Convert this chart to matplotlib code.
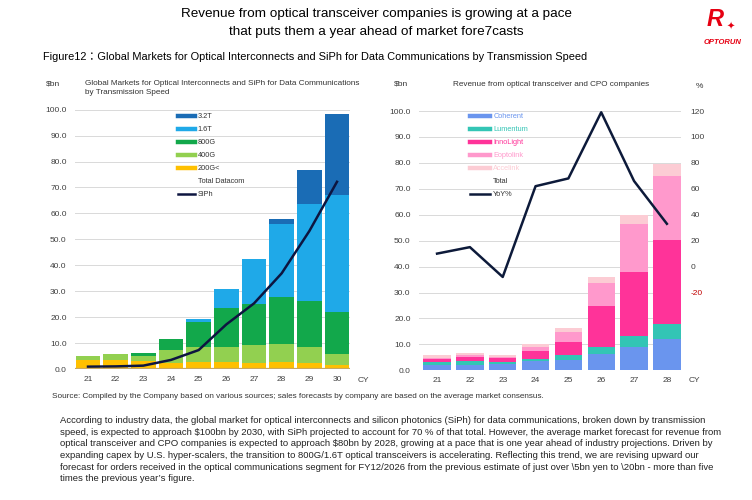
import matplotlib
matplotlib.use('Agg')
import matplotlib.pyplot as plt
from matplotlib.lines import Line2D
import numpy as np

FONT = ['Liberation Sans', 'DejaVu Sans']
plt.rcParams['font.family'] = FONT

# ---- left chart data ($bn) ----
years_l = ['21', '22', '23', '24', '25', '26', '27', '28', '29', '30']
g200 = [3.4, 3.6, 3.0, 2.4, 2.6, 2.6, 2.4, 2.6, 2.3, 1.7]
g400 = [1.7, 2.1, 2.0, 4.9, 6.0, 5.9, 6.7, 7.2, 6.3, 4.1]
g800 = [0.0, 0.0, 1.2, 4.3, 9.7, 14.9, 16.0, 18.1, 17.6, 16.2]
t16 = [0.0, 0.0, 0.0, 0.0, 0.9, 7.3, 17.4, 28.0, 37.6, 45.1]
t32 = [0.0, 0.0, 0.0, 0.0, 0.0, 0.0, 0.0, 1.8, 12.8, 31.4]
siph = [0.9, 1.0, 1.3, 3.5, 7.3, 17.2, 25.3, 36.9, 53.2, 72.2]

# ---- right chart data ($bn, %) ----
years_r = ['21', '22', '23', '24', '25', '26', '27', '28']
coherent = [1.9, 2.2, 2.3, 3.4, 4.1, 6.2, 9.0, 12.0]
lumentum = [1.2, 1.4, 1.0, 0.8, 1.8, 2.9, 4.2, 6.0]
innolight = [1.1, 1.5, 1.5, 3.4, 5.2, 15.7, 24.8, 32.3]
eoptolink = [0.7, 0.7, 0.3, 1.3, 3.6, 9.0, 18.4, 24.6]
accelink = [0.9, 0.8, 0.7, 1.1, 1.8, 2.1, 3.4, 4.5]
yoy = [10, 15, -8, 62, 68, 119, 66, 33]

W, H = 752, 500
fig = plt.figure(figsize=(W / 100, H / 100), dpi=100)


def ftext(x, y, s, **kw):
    # place text using pixel coordinates of the reference image
    return fig.text(x / W, 1 - y / H, s, **kw)


def axes_px(l, t, r, b):
    return fig.add_axes([l / W, 1 - b / H, (r - l) / W, (b - t) / H])


grid_c = '#d9d9d9'
tick_c = '#404040'
TS = 6  # tick label size
LS = 5.3  # legend text size

# ================= left chart =================
ax1 = axes_px(75, 109.7, 350, 369)
x1 = np.arange(len(years_l))
left_series = [('200G<', g200, '#ffc000'), ('400G', g400, '#92d050'),
               ('800G', g800, '#12a84b'), ('1.6T', t16, '#1fa9e8'),
               ('3.2T', t32, '#1a6cb5')]
bottom = np.zeros(len(years_l))
handles = {}
for name, vals, col in left_series:
    ax1.bar(x1, vals, width=0.9, bottom=bottom, color=col, zorder=2)
    bottom += np.array(vals)
    handles[name] = Line2D([], [], color=col, lw=3.2)
ax1.plot(x1, siph, color='#0d1540', lw=1.8, zorder=3)
ax1.set_xlim(-0.47, 9.47)
ax1.set_ylim(0, 100)
ax1.set_yticks(np.arange(0, 101, 10))
ax1.set_yticklabels([f'{v:.1f}' for v in range(0, 101, 10)])
ax1.set_xticks(x1)
ax1.set_xticklabels(years_l)
ax1.grid(axis='y', color=grid_c, lw=0.7, zorder=0)
ax1.set_axisbelow(True)
ax1.axhline(0, color='#c9a860', lw=1.6, zorder=4)
for s in ax1.spines.values():
    s.set_visible(False)
ax1.tick_params(length=0, labelsize=TS, colors=tick_c, pad=6)
ax1.tick_params(axis='x', pad=5)

lh = [handles['3.2T'], handles['1.6T'], handles['800G'], handles['400G'],
      handles['200G<'], Line2D([], [], color='none'),
      Line2D([], [], color='#0d1540', lw=1.8)]
ll = ['3.2T', '1.6T', '800G', '400G', '200G<', 'Total Datacom', 'SiPh']
leg1 = ax1.legend(lh, ll, loc='upper left', bbox_to_anchor=(178 / W, 1 - 113 / H),
                  bbox_transform=fig.transFigure, frameon=False, fontsize=LS,
                  handlelength=2.3, handletextpad=0.4, labelspacing=0.8,
                  borderpad=0, borderaxespad=0)
for t in leg1.get_texts():
    t.set_color('#333333')

ftext(53, 84, '$bn', fontsize=6, ha='center', va='center', color='#333333')
ftext(85, 80, 'Global Markets for Optical Interconnects and SiPh for Data Communications\nby Transmission Speed',
      fontsize=5.9, ha='left', va='top', color='#333333', linespacing=1.3)
ftext(363, 381, 'CY', fontsize=TS, ha='center', va='center', color=tick_c)

# ================= right chart =================
ax2 = axes_px(419, 111, 681, 370.3)
x2 = np.arange(len(years_r))
right_series = [('Coherent', coherent, '#6a95ee'), ('Lumentum', lumentum, '#33c5b5'),
                ('InnoLight', innolight, '#ff3399'), ('Eoptolink', eoptolink, '#ff99cc'),
                ('Accelink', accelink, '#fcccd4')]
bottom = np.zeros(len(years_r))
rh = []
for name, vals, col in right_series:
    ax2.bar(x2, vals, width=0.83, bottom=bottom, color=col, zorder=2)
    bottom += np.array(vals)
    rh.append(Line2D([], [], color=col, lw=3.2))
ax2.set_xlim(-0.55, 7.43)
ax2.set_ylim(0, 100)
ax2.set_yticks(np.arange(0, 101, 10))
ax2.set_yticklabels([f'{v:.1f}' for v in range(0, 101, 10)])
ax2.set_xticks(x2)
ax2.set_xticklabels(years_r)
ax2.grid(axis='y', color=grid_c, lw=0.7, zorder=0)
ax2.set_axisbelow(True)
for s in ax2.spines.values():
    s.set_visible(False)
ax2.tick_params(length=0, labelsize=TS, colors=tick_c, pad=6)
ax2.tick_params(axis='x', pad=5)

ax2r = ax2.twinx()
ax2r.plot(x2, yoy, color='#0d1a3a', lw=1.8, zorder=3)
ax2r.set_ylim(-80, 120)
rt = list(range(-20, 121, 20))
ax2r.set_yticks(rt)
ax2r.set_yticklabels([str(v) for v in rt])
for s in ax2r.spines.values():
    s.set_visible(False)
ax2r.tick_params(length=0, labelsize=TS, colors=tick_c, pad=7)
ax2r.get_yticklabels()[0].set_color('#c00000')

rl = ['Coherent', 'Lumentum', 'InnoLight', 'Eoptolink', 'Accelink', 'Total', 'YoY%']
rh += [Line2D([], [], color='none'), Line2D([], [], color='#0d1a3a', lw=1.8)]
leg2 = ax2r.legend(rh, rl, loc='upper left', bbox_to_anchor=(470 / W, 1 - 113 / H),
                   bbox_transform=fig.transFigure, frameon=False, fontsize=LS,
                   handlelength=2.75, handletextpad=0.4, labelspacing=0.8,
                   borderpad=0, borderaxespad=0)
tcols = ['#6a95ee', '#33c5b5', '#ff3399', '#ff99cc', '#fcccd4', '#333333', '#333333']
for t, c in zip(leg2.get_texts(), tcols):
    t.set_color(c)

ftext(401, 84, '$bn', fontsize=6, ha='center', va='center', color='#333333')
ftext(551, 85, 'Revenue from optical transceiver and CPO companies',
      fontsize=5.9, ha='center', va='center', color='#333333')
ftext(699, 87, '%', fontsize=6, ha='center', va='center', color='#333333')
ftext(694, 381, 'CY', fontsize=TS, ha='center', va='center', color=tick_c)

# ================= page text =================
ftext(376, 14, 'Revenue from optical transceiver companies is growing at a pace',
      fontsize=9.7, ha='center', va='center', color='black')
ftext(376, 32, 'that puts them a year ahead of market fore7casts',
      fontsize=9.7, ha='center', va='center', color='black')
ftext(43, 57, 'Figure12：Global Markets for Optical Interconnects and SiPh for Data Communications by Transmission Speed',
      fontsize=7.9, ha='left', va='center', color='black',
      family=['Liberation Sans', 'Noto Sans CJK JP'])

# logo
ftext(715, 20, 'R', fontsize=17, fontweight='bold', style='italic',
      ha='center', va='center', color='#e60012')
ftext(731, 27, '✦', fontsize=7, ha='center', va='center', color='#e60012',
      family=['DejaVu Sans'])
ftext(723, 42, 'OPTORUN', fontsize=5.5, fontweight='bold', style='italic',
      ha='center', va='center', color='#e60012')

ftext(52, 397, 'Source: Compiled by the Company based on various sources; sales forecasts by company are based on the average market consensus.',
      fontsize=5.9, ha='left', va='center', color='#333333')
para = ('According to industry data, the global market for optical interconnects and silicon photonics (SiPh) for data communications, broken down by transmission\n'
        'speed, is expected to approach $100bn by 2030, with SiPh projected to account for 70 % of that total. However, the average market forecast for revenue from\n'
        'optical transceiver and CPO companies is expected to approach $80bn by 2028, growing at a pace that is one year ahead of industry projections. Driven by\n'
        'expanding capex by U.S. hyper-scalers, the transition to 800G/1.6T optical transceivers is accelerating. Reflecting this trend, we are revising upward our\n'
        'forecast for orders received in the optical communications segment for FY12/2026 from the previous estimate of just over \\5bn yen to \\20bn - more than five\n'
        'times the previous year\u2019s figure.')
ftext(60, 416, para, fontsize=6.8, ha='left', va='top', color='#222222', linespacing=1.38)

fig.savefig('out.png', dpi=100)
